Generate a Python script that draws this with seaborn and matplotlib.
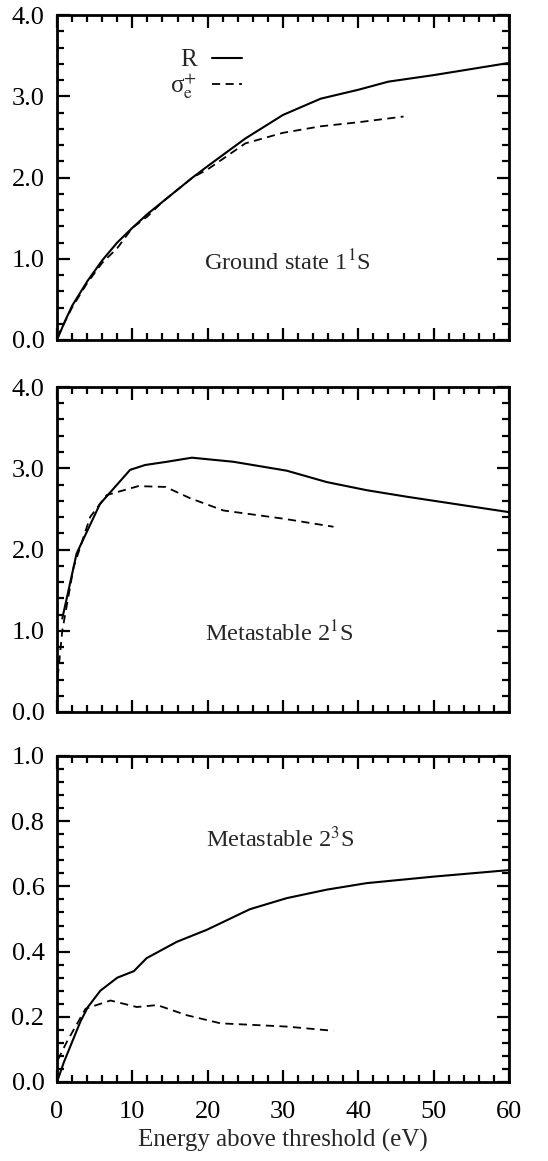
import numpy as np
import pandas as pd
import matplotlib
matplotlib.use("Agg")
import matplotlib.pyplot as plt
import seaborn as sns
from matplotlib.ticker import MultipleLocator, FormatStrFormatter
from matplotlib.lines import Line2D

sns.set_style("ticks")
plt.rcParams['font.family'] = ['Liberation Serif', 'DejaVu Serif']
plt.rcParams['mathtext.fontset'] = 'stix'

# ---- Data ----
# Ground state 1^1S
g_R_x = [0, 1, 2, 4, 6, 8, 10, 12, 14, 16, 18, 20, 25, 30, 35, 40, 44, 50, 60]
g_R_y = [0.0, 0.22, 0.42, 0.72, 0.98, 1.20, 1.38, 1.55, 1.70, 1.85, 2.00, 2.14, 2.48, 2.77, 2.97, 3.08, 3.18, 3.26, 3.41]
g_S_x = [0, 2, 4, 6, 8, 10, 12, 14, 16, 18, 20, 25, 30, 35, 40, 46]
g_S_y = [0.03, 0.40, 0.70, 0.95, 1.13, 1.38, 1.52, 1.70, 1.85, 2.00, 2.10, 2.42, 2.55, 2.63, 2.68, 2.75]

# Metastable 2^1S
m1_R_x = [0.7, 2.6, 5.7, 9.7, 11.7, 14.6, 17.9, 23.4, 30.5, 35.8, 41.1, 46.4, 60]
m1_R_y = [1.15, 1.95, 2.56, 2.98, 3.04, 3.08, 3.13, 3.08, 2.97, 2.83, 2.73, 2.65, 2.46]
m1_S_x = [0.1, 0.7, 2.2, 4.4, 6.6, 10.8, 14.4, 17.7, 22.1, 30.0, 36.7]
m1_S_y = [0.43, 1.00, 1.78, 2.40, 2.67, 2.78, 2.77, 2.63, 2.48, 2.38, 2.28]

# Metastable 2^3S
m3_R_x = [0, 0.9, 3.1, 4.1, 5.75, 8.0, 10.2, 11.9, 15.9, 19.9, 25.6, 30.5, 35.8, 41.1, 50, 60]
m3_R_y = [0.0, 0.06, 0.185, 0.23, 0.28, 0.32, 0.34, 0.38, 0.43, 0.467, 0.53, 0.564, 0.59, 0.61, 0.63, 0.65]
m3_S_x = [0.1, 1.3, 3.8, 7.1, 10.6, 13.3, 17.2, 21.7, 30.5, 36.7]
m3_S_y = [0.067, 0.123, 0.225, 0.25, 0.23, 0.236, 0.205, 0.18, 0.17, 0.157]

panel_labels = ["Ground state 1$^1$S", "Metastable 2$^1$S", "Metastable 2$^3$S"]
legend_labels = ["R", "σ$^{+}_{\\mathrm{e}}$"]
x_label = "Energy above threshold (eV)"

W, H = 548, 1161
fig = plt.figure(figsize=(W / 100, H / 100), dpi=100)

def rect(x0, y0, x1, y1):
    return [x0 / W, 1 - y1 / H, (x1 - x0) / W, (y1 - y0) / H]

axes = [fig.add_axes(rect(57, 15, 509, 340)),
        fig.add_axes(rect(57, 387, 509, 712)),
        fig.add_axes(rect(57, 756, 509, 1082))]

panels = [
    (g_R_x, g_R_y, g_S_x, g_S_y, 4.0, 1.0, 0.2, (30.6, 0.95)),
    (m1_R_x, m1_R_y, m1_S_x, m1_S_y, 4.0, 1.0, 0.2, (29.5, 0.96)),
    (m3_R_x, m3_R_y, m3_S_x, m3_S_y, 1.0, 0.2, 0.04, (29.7, 0.745)),
]

for i, (ax, (rx, ry, sx, sy, ymax, ymaj, ymin, lpos)) in enumerate(zip(axes, panels)):
    sns.lineplot(x=rx, y=ry, ax=ax, color='black', lw=1.5, sort=False, estimator=None)
    sns.lineplot(x=sx, y=sy, ax=ax, color='black', lw=1.3, sort=False, estimator=None,
                 linestyle=(0, (4.5, 3)))
    ax.set_xlim(0, 60)
    ax.set_ylim(0, ymax)
    ax.xaxis.set_major_locator(MultipleLocator(10))
    ax.xaxis.set_minor_locator(MultipleLocator(2))
    ax.yaxis.set_major_locator(MultipleLocator(ymaj))
    ax.yaxis.set_minor_locator(MultipleLocator(ymin))
    ax.yaxis.set_major_formatter(FormatStrFormatter('%.1f'))
    ax.tick_params(which='both', direction='in', top=True, right=True, colors='black',
                   labelsize=19, width=1.6)
    ax.tick_params(which='major', length=9)
    ax.tick_params(which='minor', length=5)
    ax.tick_params(axis='y', which='major', pad=9)
    ax.tick_params(axis='x', which='major', pad=14)
    for s in ax.spines.values():
        s.set_linewidth(2.0)
        s.set_color('black')
    ax.set_xlabel("")
    ax.set_ylabel("")
    if i < 2:
        ax.tick_params(labelbottom=False)
    ax.text(lpos[0], lpos[1], panel_labels[i], ha='center', va='center', fontsize=17.5)

axes[2].set_xlabel(x_label, fontsize=18, labelpad=4)

handles = [Line2D([], [], color='black', lw=1.5),
           Line2D([], [], color='black', lw=1.3, linestyle=(0, (4.5, 3)))]
axes[0].legend(handles, legend_labels, loc='upper left', bbox_to_anchor=(0.2, 0.965),
               frameon=False, markerfirst=False, handlelength=1.2, handletextpad=0.6,
               labelspacing=0.0, fontsize=18)

fig.savefig("out.png", dpi=100)
